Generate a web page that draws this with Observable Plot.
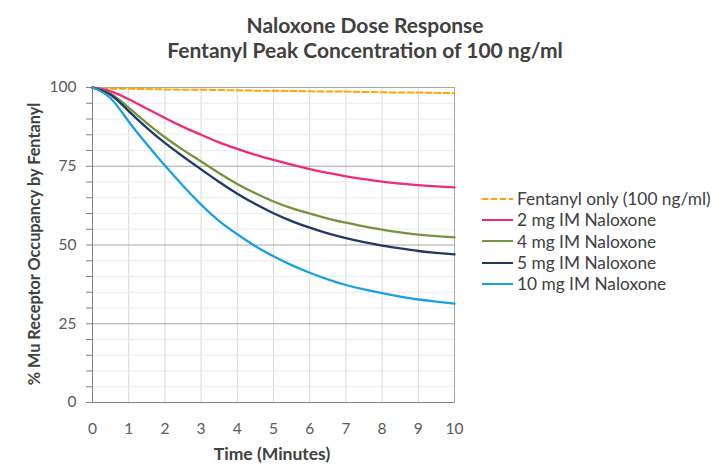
<!DOCTYPE html>
<html>
<head>
<meta charset="utf-8">
<script src="https://cdn.jsdelivr.net/npm/d3@7"></script>
<script src="https://cdn.jsdelivr.net/npm/@observablehq/plot@0.6"></script>
<style>
  html, body { margin: 0; padding: 0; background: #fff; }
  #wrap { position: relative; width: 717px; height: 472px; font-family: Lato, "Open Sans", sans-serif; }
  #wrap svg { position: absolute; left: 0; top: 0; }
  .title { position: absolute; left: 0; width: 730px; text-align: center; font-weight: bold; font-size: 21px; color: #404040; white-space: nowrap; line-height: 25px; }
  .ylab { position: absolute; left: 33px; top: 244px; transform: translate(-50%, -50%) rotate(-90deg); font-weight: bold; font-size: 16.3px; color: #404040; white-space: nowrap; }
  .xlab { position: absolute; left: 272px; top: 453px; transform: translate(-50%, -50%); font-weight: bold; font-size: 17.5px; color: #404040; white-space: nowrap; }
  #legend { position: absolute; left: 482px; top: 188px; font-size: 17.3px; color: #404040; }
  #legend .row { display: flex; align-items: center; height: 21.3px; white-space: nowrap; }
  #legend svg { position: static; margin-right: 4px; }
</style>
</head>
<body>
<div id="wrap">
  <div class="title" style="top:12px">Naloxone Dose Response<br>Fentanyl Peak Concentration of 100 ng/ml</div>
  <div class="ylab">% Mu Receptor Occupancy by Fentanyl</div>
  <div class="xlab">Time (Minutes)</div>
  <div id="legend"></div>
</div>
<script>
// Time points (minutes)
const times = [0, 0.5, 1, 1.5, 2, 2.5, 3, 3.5, 4, 4.5, 5, 5.5, 6, 6.5, 7, 7.5, 8, 8.5, 9, 9.5, 10];

// % Mu receptor occupancy by fentanyl
const fentanylOnly = [99.7, 99.6, 99.6, 99.5, 99.4, 99.3, 99.3, 99.2, 99.1, 99.0, 99.0, 98.9, 98.8, 98.7, 98.7, 98.6, 98.5, 98.4, 98.4, 98.3, 98.2];
const nalox2mg  = [100, 98.8, 96.3, 93.3, 90.3, 87.5, 85.0, 82.6, 80.5, 78.6, 77.0, 75.5, 74.1, 72.9, 71.8, 70.9, 70.1, 69.5, 69.0, 68.6, 68.3];
const nalox4mg  = [100, 98.0, 93.6, 88.7, 84.2, 80.2, 76.5, 72.8, 69.4, 66.4, 63.8, 61.7, 60.0, 58.4, 57.1, 55.9, 54.9, 54.0, 53.3, 52.8, 52.4];
const nalox5mg  = [100, 97.7, 92.5, 87.2, 82.4, 78.1, 74.0, 70.0, 66.3, 63.0, 60.1, 57.6, 55.5, 53.7, 52.2, 50.9, 49.8, 48.9, 48.1, 47.5, 47.0];
const nalox10mg = [100, 96.6, 89.2, 82.0, 75.2, 68.8, 62.8, 57.6, 53.4, 49.6, 46.4, 43.6, 41.2, 39.1, 37.3, 35.9, 34.7, 33.6, 32.7, 32.0, 31.4];

const seriesNames = ["Fentanyl only (100 ng/ml)", "2 mg IM Naloxone", "4 mg IM Naloxone", "5 mg IM Naloxone", "10 mg IM Naloxone"];
const seriesColors = ["#FFA500", "#EE2A7B", "#76923C", "#1F3864", "#1BA1E2"];
const seriesDash = ["6,3", null, null, null, null];
const seriesValues = [fentanylOnly, nalox2mg, nalox4mg, nalox5mg, nalox10mg];

const xTicks = [0, 1, 2, 3, 4, 5, 6, 7, 8, 9, 10];
const yTickLabels = [0, 25, 50, 75, 100];

const rows = seriesNames.flatMap((name, i) =>
  times.map((t, j) => ({series: name, t, v: seriesValues[i][j]})));

const lineMarks = seriesNames.map((name, i) =>
  Plot.line(rows.filter(r => r.series === name), {
    x: "t", y: "v", stroke: seriesColors[i], strokeWidth: i === 0 ? 2 : 2.3,
    strokeDasharray: seriesDash[i] || undefined, curve: "natural"
  }));

const chart = Plot.plot({
  width: 717,
  height: 472,
  marginTop: 87,
  marginBottom: 70,
  marginLeft: 92,
  marginRight: 263,
  style: {fontFamily: "Lato, 'Open Sans', sans-serif", fontSize: "15.5px", color: "#595959", background: "transparent"},
  x: {domain: [0, 10]},
  y: {domain: [0, 100]},
  marks: [
    Plot.gridX(xTicks.slice(1), {stroke: "#d9d9d9", strokeOpacity: 1}),
    Plot.gridY(d3.range(5, 100, 5).filter(d => d % 25 !== 0), {stroke: "#ebebeb", strokeOpacity: 1}),
    Plot.gridY(yTickLabels.slice(1, 4), {stroke: "#a6a6a6", strokeOpacity: 1}),
    Plot.frame({stroke: "#a6a6a6"}),
    Plot.ruleX([0], {stroke: "#808080"}),
    Plot.ruleY([0], {stroke: "#808080"}),
    Plot.axisX({ticks: xTicks, tickSize: 0, tickPadding: 20, label: null, fill: "#595959", fontSize: 15.5}),
    Plot.axisY({ticks: d3.range(0, 101, 5), tickFormat: d => yTickLabels.includes(d) ? String(d) : "", tickSize: 6, tickPadding: 10, label: null, stroke: "#808080", fill: "#595959", fontSize: 15.5}),
    ...lineMarks
  ]
});
document.getElementById("wrap").insertBefore(chart, document.getElementById("wrap").firstChild);

// Legend
const legend = document.getElementById("legend");
seriesNames.forEach((name, i) => {
  const row = document.createElement("div");
  row.className = "row";
  const dash = seriesDash[i] ? `stroke-dasharray="${seriesDash[i]}"` : "";
  row.innerHTML = `<svg width="31" height="6"><line x1="0" y1="3" x2="31" y2="3" stroke="${seriesColors[i]}" stroke-width="2" ${dash}/></svg><span>${name}</span>`;
  legend.appendChild(row);
});
</script>
</body>
</html>
